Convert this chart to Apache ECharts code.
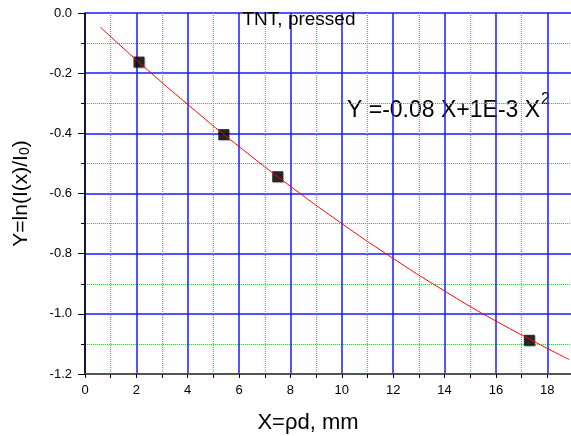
<!DOCTYPE html>
<html>
<head>
<meta charset="utf-8">
<script src="https://cdn.jsdelivr.net/npm/echarts@6/dist/echarts.min.js"></script>
<style>
  html, body { margin: 0; padding: 0; background: #fff; }
  #chart { width: 571px; height: 436px; }
</style>
</head>
<body>
<div id="chart"></div>
<script>
// measured points (X = rho*d, Y = ln(I/I0))
const measuredX = [2.1, 5.4, 7.5, 17.3];
const measuredY = [-0.163, -0.404, -0.544, -1.088];

// fitted curve
const fitX = [0.6, 2, 4, 6, 8, 10, 12, 14, 16, 18.85];
const fitY = [-0.047, -0.156, -0.304, -0.444, -0.576, -0.700, -0.816, -0.924, -1.024, -1.152];

const chartTitle = 'TNT, pressed';

const dom = echarts.init(document.getElementById('chart'));

const minorLine = { color: '#00ff00', type: [1, 1], width: 1 };
const majorLine = { color: '#1a1aff', width: 1.5 };

const option = {
  animation: false,
  textStyle: {
    fontFamily: 'Liberation Sans, Arial, sans-serif',
    color: '#000'
  },
  title: {
    text: chartTitle,
    left: 294,
    textAlign: 'center',
    top: 5,
    textStyle: {
      fontSize: 19,
      fontWeight: 'normal',
      color: '#000'
    }
  },
  grid: {
    left: 85,
    top: 13,
    width: 488,
    height: 361,
    outerBoundsMode: 'none'
  },
  xAxis: {
    type: 'value',
    min: 0,
    max: 19,
    interval: 2,
    name: 'X=ρd, mm',
    nameLocation: 'middle',
    nameGap: 38,
    nameTextStyle: {
      fontSize: 22,
      color: '#000',
      padding: [0, 42, 0, 0]
    },
    axisLine: {
      onZero: false,
      lineStyle: { color: '#555', width: 2 }
    },
    axisTick: {
      inside: false,
      length: 4,
      lineStyle: { color: '#000' }
    },
    minorTick: {
      show: true,
      splitNumber: 2,
      length: 4,
      lineStyle: { color: '#000' }
    },
    axisLabel: {
      fontSize: 13,
      color: '#000',
      margin: 10,
      showMaxLabel: false
    },
    splitLine: { show: true, lineStyle: majorLine },
    minorSplitLine: { show: true, lineStyle: minorLine }
  },
  yAxis: {
    type: 'value',
    min: -1.2,
    max: 0,
    interval: 0.2,
    name: '{a|Y=ln(I(x)/I}{s|0}{a|)}',
    nameLocation: 'middle',
    nameGap: 53,
    nameTextStyle: {
      color: '#000',
      rich: {
        a: { fontSize: 21, color: '#000' },
        s: { fontSize: 14, color: '#000', verticalAlign: 'bottom', padding: [8, 0, 0, 0] }
      }
    },
    axisLine: {
      onZero: false,
      lineStyle: { color: '#000', width: 1.5 }
    },
    axisTick: {
      inside: false,
      length: 7,
      lineStyle: { color: '#000' }
    },
    minorTick: {
      show: true,
      splitNumber: 2,
      length: 4,
      lineStyle: { color: '#000' }
    },
    axisLabel: {
      fontSize: 13,
      color: '#000',
      margin: 13,
      formatter: function (v) { return v.toFixed(1); }
    },
    splitLine: { show: true, lineStyle: majorLine },
    minorSplitLine: { show: true, lineStyle: minorLine }
  },
  graphic: [
    {
      type: 'text',
      left: 347,
      top: 92,
      style: {
        text: '{a|Y =-0.08 X+1E-3 X}{s|2}',
        rich: {
          a: { fontSize: 23, lineHeight: 30, fill: '#000', fontFamily: 'Liberation Sans', verticalAlign: 'bottom' },
          s: { fontSize: 16, lineHeight: 30, fill: '#000', fontFamily: 'Liberation Sans', verticalAlign: 'top', padding: [0, 0, 0, 1] }
        }
      }
    }
  ],
  series: [
    {
      name: 'fit',
      type: 'line',
      smooth: true,
      symbol: 'none',
      data: fitX.map((x, i) => [x, fitY[i]]),
      lineStyle: { color: '#ff0000', width: 1 },
      z: 3
    },
    {
      name: 'data',
      type: 'scatter',
      symbol: 'rect',
      symbolSize: 11,
      data: measuredX.map((x, i) => [x, measuredY[i]]),
      itemStyle: {
        color: '#000',
        shadowColor: 'rgba(0,0,0,0.35)',
        shadowOffsetX: 1,
        shadowOffsetY: 1
      },
      z: 2
    }
  ]
};

dom.setOption(option);
</script>
</body>
</html>
